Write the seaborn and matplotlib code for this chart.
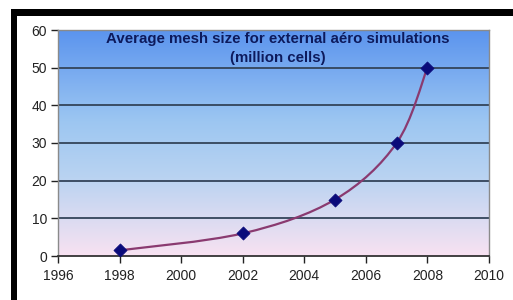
import numpy as np
import pandas as pd
import matplotlib
matplotlib.use("Agg")
import matplotlib.pyplot as plt
import seaborn as sns
from matplotlib.colors import LinearSegmentedColormap
from matplotlib.path import Path
from matplotlib.patches import PathPatch, Rectangle

years = [1998, 2002, 2005, 2007, 2008]
mesh_size = [1.5, 6, 15, 30, 50]
x_ticks = [1996, 1998, 2000, 2002, 2004, 2006, 2008, 2010]
y_ticks = [0, 10, 20, 30, 40, 50, 60]
title = "Average mesh size for external aéro simulations\n(million cells)"

df = pd.DataFrame({"year": years, "cells": mesh_size})

sns.set_style("white")
plt.rcParams["font.family"] = ["Liberation Sans", "DejaVu Sans"]

fig = plt.figure(figsize=(5.13, 3.0), dpi=100)
fig.patch.set_facecolor("white")
ax = fig.add_axes([58/513, 44/300, 431/513, 226/300])

# gradient background
cmap = LinearSegmentedColormap.from_list(
    "bg", [(0.0, "#f8e2f2"), (0.35, "#b9d3f1"), (0.6, "#9cc6f2"), (1.0, "#5b94ee")])
grad = np.linspace(0, 1, 256).reshape(-1, 1)
ax.imshow(grad, cmap=cmap, origin="lower", aspect="auto",
          extent=[0, 1, 0, 1], transform=ax.transAxes, zorder=0)

ax.set_xlim(1996, 2010)
ax.set_ylim(0, 60)

# grid lines
for yv in y_ticks[1:-1]:
    ax.axhline(yv, color="#33445a", lw=1.3, zorder=1)

# smoothed line (Catmull-Rom style bezier through the data)
pts = np.column_stack([df["year"].to_numpy(float), df["cells"].to_numpy(float)])
verts = [tuple(pts[0])]
codes = [Path.MOVETO]
n = len(pts)
for i in range(n - 1):
    p0 = pts[i - 1] if i > 0 else pts[i]
    p1 = pts[i]
    p2 = pts[i + 1]
    p3 = pts[i + 2] if i + 2 < n else pts[i + 1]
    c1 = p1 + (p2 - p0) / 6.0
    c2 = p2 - (p3 - p1) / 6.0
    verts += [tuple(c1), tuple(c2), tuple(p2)]
    codes += [Path.CURVE4, Path.CURVE4, Path.CURVE4]
ax.add_patch(PathPatch(Path(verts, codes), facecolor="none",
                       edgecolor="#8a3a70", lw=1.6, zorder=2))

sns.scatterplot(data=df, x="year", y="cells", marker="D", s=45,
                color="#0a0a7a", edgecolor="#0a0a7a", linewidth=0.5,
                ax=ax, zorder=3, legend=False)

ax.set_xticks(x_ticks)
ax.set_yticks(y_ticks)
ax.set_xlabel("")
ax.set_ylabel("")
ax.tick_params(axis="both", labelsize=10, colors="#222222", length=5,
               width=1, direction="out", pad=3)
ax.tick_params(axis="x", bottom=True, pad=4)
ax.tick_params(axis="y", left=True)
for s in ["left", "right", "top"]:
    ax.spines[s].set_color("#8a8a8a")
    ax.spines[s].set_linewidth(1)
ax.spines["bottom"].set_color("#333333")
ax.spines["bottom"].set_linewidth(1.3)

ax.text(0.51, 0.99, title, transform=ax.transAxes, ha="center", va="top",
        fontsize=10.8, fontweight="bold", color="#0d1a5c", linespacing=1.45,
        zorder=4)

# black frame bands
fig.add_artist(Rectangle((11/513, 1 - 16/300), 1 - 11/513, 7/300,
                         transform=fig.transFigure, facecolor="black",
                         edgecolor="none", fill=True, zorder=10))
fig.add_artist(Rectangle((11/513, 0), 6/513, 1 - 9/300,
                         transform=fig.transFigure, facecolor="black",
                         edgecolor="none", fill=True, zorder=10))

fig.savefig("out.png", dpi=100, facecolor="white")
